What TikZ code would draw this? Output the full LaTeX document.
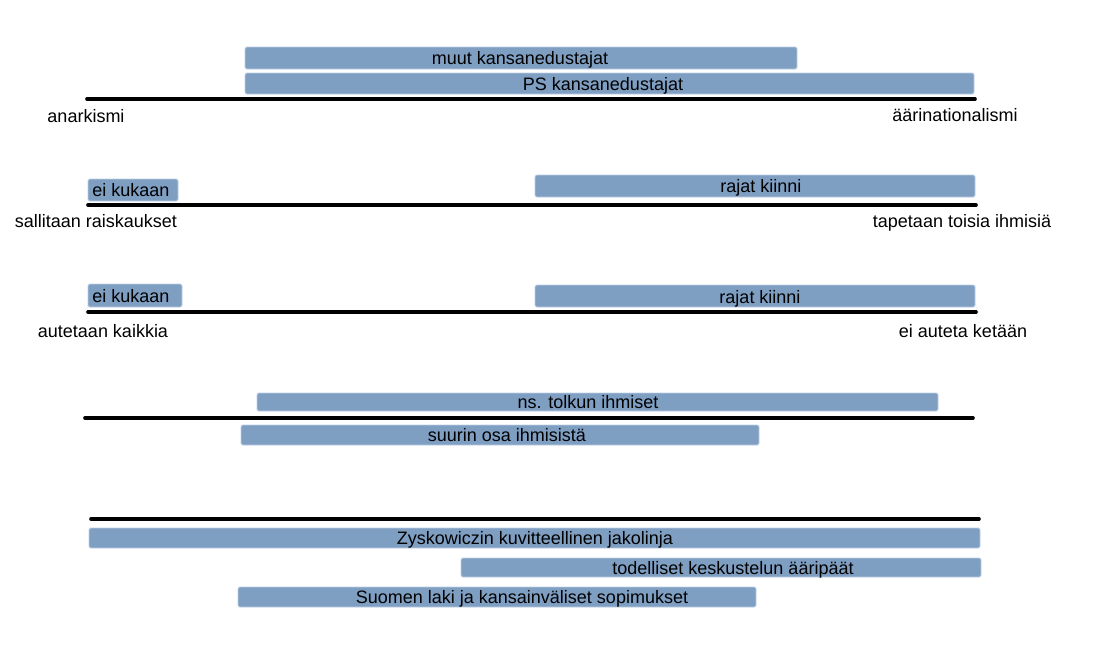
\documentclass[tikz,border=0pt]{standalone}
\usepackage{fontspec}
\setmainfont{Liberation Sans}
\definecolor{barfill}{RGB}{126,158,194}
\definecolor{barline}{RGB}{190,208,228}
\tikzset{
  bar/.style={draw=barline, line width=0.8pt, fill=barfill, rounded corners=1.5pt, anchor=north west, inner sep=0pt, outer sep=0pt},
  txt/.style={inner sep=0pt, text height=13pt, text depth=0pt, font=\fontsize{18}{20}\selectfont},
  axis/.style={line width=3.6pt, line cap=round}
}
\newcommand{\mybar}[5]{\node[bar, minimum width={(#4-#2)*1pt}, minimum height={(#5-#3)*1pt}] (#1) at (#2,#3) {};}
\begin{document}
\begin{tikzpicture}[x=1pt,y=-1pt]
\useasboundingbox (0,0) rectangle (1102,648);
% row 1
\mybar{b1}{245}{47}{797}{69}
\mybar{b2}{245}{73}{974}{94}
\node[txt] (t1) at (520,58) {muut kansanedustajat};
\node[txt] (t2) at (603,84) {PS kansanedustajat};
\coordinate (l1a) at (87,99); \coordinate (l1b) at (975,99);
\draw[axis] (l1a) -- (l1b);
\node[txt] (a1) at (86,116) {anarkismi};
\node[txt] (e1) at (955,115) {äärinationalismi};
% row 2
\mybar{b3}{88}{179}{178}{201}
\mybar{b4}{535}{175}{975}{197}
\node[txt] (t3) at (131,190) {ei kukaan};
\node[txt] (t4) at (761,186) {rajat kiinni};
\coordinate (l2a) at (88,205); \coordinate (l2b) at (976,205);
\draw[axis] (l2a) -- (l2b);
\node[txt] (a2) at (96,221) {sallitaan raiskaukset};
\node[txt] (e2) at (962,221) {tapetaan toisia ihmisiä};
% row 3
\mybar{b5}{88}{284}{182}{307}
\mybar{b6}{535}{285}{975}{307}
\node[txt] (t5) at (131,296) {ei kukaan};
\node[txt] (t6) at (760,297) {rajat kiinni};
\coordinate (l3a) at (88,312); \coordinate (l3b) at (976,312);
\draw[axis] (l3a) -- (l3b);
\node[txt] (a3) at (103,331) {autetaan kaikkia};
\node[txt] (e3) at (963,331) {ei auteta ketään};
% row 4
\mybar{b7}{257}{393}{938}{411}
\mybar{b8}{241}{425}{759}{445}
\node[txt] (t7) at (588,402) {ns. tolkun ihmiset};
\node[txt] (t8) at (507,435) {suurin osa ihmisistä};
\coordinate (l4a) at (85,418); \coordinate (l4b) at (973,418);
\draw[axis] (l4a) -- (l4b);
% row 5
\coordinate (l5a) at (91,519); \coordinate (l5b) at (979,519);
\draw[axis] (l5a) -- (l5b);
\mybar{b9}{89}{528}{980}{548}
\mybar{b10}{461}{558}{981}{577}
\mybar{b11}{238}{587}{756}{607}
\node[txt] (t9) at (535,538) {Zyskowiczin kuvitteellinen jakolinja};
\node[txt] (t10) at (733,568) {todelliset keskustelun ääripäät};
\node[txt] (t11) at (522,597) {Suomen laki ja kansainväliset sopimukset};
\end{tikzpicture}
\end{document}
